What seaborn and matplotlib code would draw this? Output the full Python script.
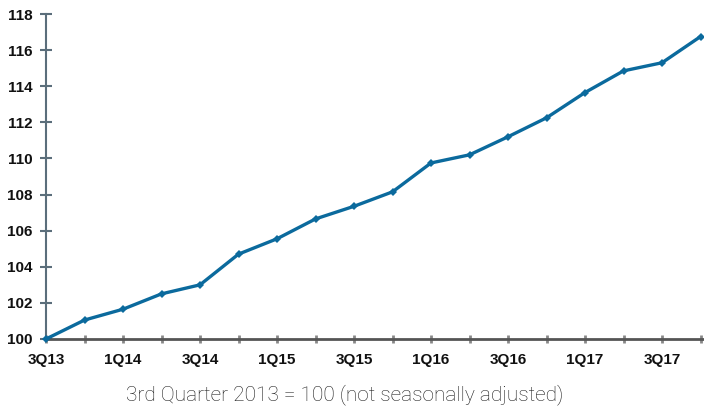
import matplotlib
matplotlib.use("Agg")
import matplotlib.pyplot as plt
import seaborn as sns
import pandas as pd

# quarterly index, 3Q13 = 100
quarters = ["3Q13", "4Q13", "1Q14", "2Q14", "3Q14", "4Q14", "1Q15", "2Q15", "3Q15",
            "4Q15", "1Q16", "2Q16", "3Q16", "4Q16", "1Q17", "2Q17", "3Q17", "4Q17"]
index_values = [100.0, 101.05, 101.65, 102.5, 103.0, 104.7, 105.55, 106.65, 107.35,
                108.15, 109.75, 110.2, 111.2, 112.25, 113.65, 114.85, 115.3, 116.75]
y_ticks = [100, 102, 104, 106, 108, 110, 112, 114, 116, 118]

df = pd.DataFrame({"pos": range(len(quarters)), "value": index_values})

sns.set_style("white")
plt.rcParams['font.family'] = ['Liberation Sans', 'DejaVu Sans']

fig = plt.figure(figsize=(7.04, 4.13), dpi=100)
ax = fig.add_axes([46/704, 1 - 339/413, 1 - 46/704, (339 - 14)/413])

sns.lineplot(data=df, x="pos", y="value", ax=ax, color="#0b6a9d", linewidth=2.4,
             marker="D", markersize=4.5, markeredgewidth=0, clip_on=False, zorder=5)

ax.set_xlim(0, (704 - 46) / 38.5)
ax.set_ylim(100, 118)
ax.set_yticks(y_ticks)
ax.set_yticklabels([str(v) for v in y_ticks], fontsize=11, fontweight="bold")
ax.set_xticks(range(len(quarters)))
ax.set_xticklabels([q if i % 2 == 0 else "" for i, q in enumerate(quarters)],
                   fontsize=11, fontweight="bold")
ax.set_xlabel("")
ax.set_ylabel("")

for s in ["top", "right"]:
    ax.spines[s].set_visible(False)
ax.spines["left"].set_color("#5b6e7b")
ax.spines["left"].set_linewidth(1.5)
ax.spines["bottom"].set_color("#555555")
ax.spines["bottom"].set_linewidth(2)

ax.tick_params(axis="y", left=True, direction="inout", length=9, width=1.5,
               color="#5b6e7b", pad=5, labelcolor="#111111")
ax.tick_params(axis="x", bottom=True, direction="inout", length=6, width=2,
               color="#888888", pad=7, labelcolor="#111111")

fig.text(345/704, 1 - 395/413, "3rd Quarter 2013 = 100 (not seasonally adjusted)",
         ha="center", va="center", fontsize=15, color="#1c1c1c",
         family=["Roboto", "DejaVu Sans"], fontweight="light")

fig.savefig("out.png", dpi=100)
